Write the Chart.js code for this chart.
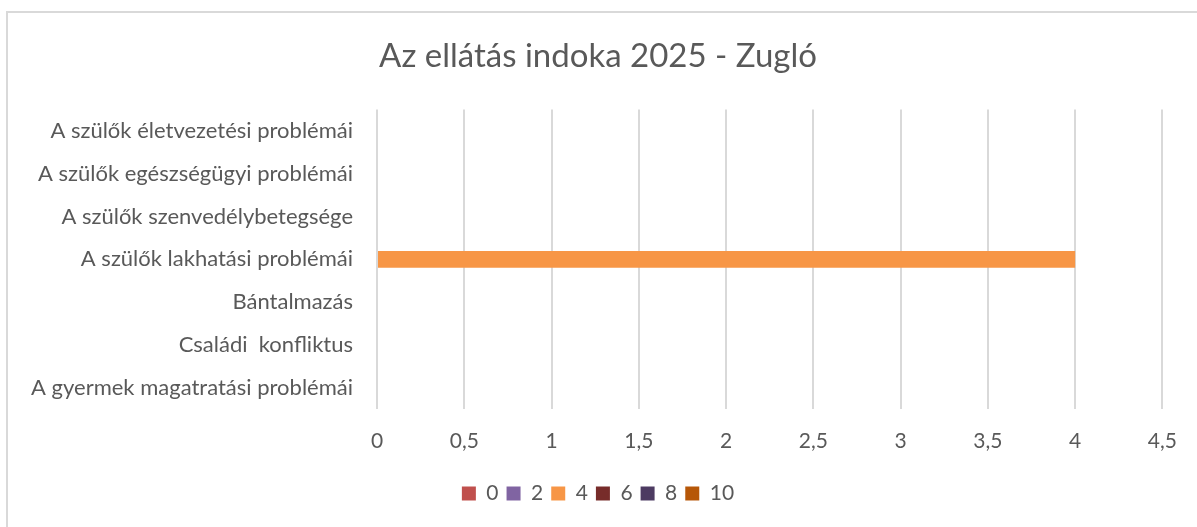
<!DOCTYPE html>
<html>
<head>
<meta charset="utf-8">
<script src="https://cdn.jsdelivr.net/npm/chart.js@4"></script>
<style>
  html, body { margin: 0; padding: 0; background: #fff; overflow: hidden; }
  #wrap { position: relative; width: 1197px; height: 527px; }
  #frame { position: absolute; left: 6px; top: 11px; width: 1300px; height: 600px; border: 2px solid #d9d9d9; box-sizing: border-box; }
  canvas { position: absolute; left: 0; top: 0; }
</style>
</head>
<body>
<div id="wrap">
  <div id="frame"></div>
  <canvas id="myChart" width="1197" height="527"></canvas>
</div>
<script>
document.addEventListener('DOMContentLoaded', function () {

    // data
    var categories = [
        'A szülők életvezetési problémái',
        'A szülők egészségügyi problémái',
        'A szülők szenvedélybetegsége',
        'A szülők lakhatási problémái',
        'Bántalmazás',
        'Családi  konfliktus',
        'A gyermek magatratási problémái'
    ];
    var seriesNames = ['0', '2', '4', '6', '8', '10'];
    var seriesColors = ['#c0504d', '#8064a2', '#f79646', '#772c2a', '#4d3b62', '#b65708'];
    var s0 = [0, 0, 0, 0, 0, 0, 0];
    var s2 = [0, 0, 0, 0, 0, 0, 0];
    var s4 = [0, 0, 0, 4, 0, 0, 0];
    var s6 = [0, 0, 0, 0, 0, 0, 0];
    var s8 = [0, 0, 0, 0, 0, 0, 0];
    var s10 = [0, 0, 0, 0, 0, 0, 0];
    var seriesValues = [s0, s2, s4, s6, s8, s10];
    var xTickLabels = ['0', '0,5', '1', '1,5', '2', '2,5', '3', '3,5', '4', '4,5'];

    var textColor = '#595959';
    var fontFamily = 'Lato, "Open Sans", sans-serif';

    var datasets = seriesNames.map(function (name, i) {
        return {
            label: name,
            data: seriesValues[i],
            backgroundColor: seriesColors[i],
            borderWidth: 0,
            categoryPercentage: 1,
            barPercentage: 0.39
        };
    });

    var ctx = document.getElementById('myChart').getContext('2d');
    var chart = new Chart(ctx, {
        type: 'bar',
        data: {
            labels: categories,
            datasets: datasets
        },
        options: {
            indexAxis: 'y',
            responsive: false,
            animation: false,
            layout: { padding: { left: 28, right: 29, top: 0, bottom: 13 } },
            scales: {
                x: {
                    stacked: true,
                    min: 0,
                    max: 4.5,
                    ticks: {
                        stepSize: 0.5,
                        color: textColor,
                        font: { family: fontFamily, size: 21 },
                        padding: 20,
                        callback: function (value, index) {
                            return xTickLabels[index];
                        }
                    },
                    grid: { color: '#d9d9d9', lineWidth: 2, drawTicks: false },
                    border: { display: false },
                    afterFit: function (scale) { scale.height = 66; }
                },
                y: {
                    stacked: true,
                    ticks: {
                        color: textColor,
                        font: { family: fontFamily, size: 22 },
                        padding: 24
                    },
                    grid: { display: false, drawTicks: false },
                    border: { display: false },
                    afterFit: function (scale) { scale.width = 349; }
                }
            },
            plugins: {
                title: {
                    display: true,
                    text: 'Az ellátás indoka 2025 - Zugló',
                    color: textColor,
                    font: { family: fontFamily, size: 33, weight: 'normal' },
                    padding: { top: 37, bottom: 33 }
                },
                legend: {
                    position: 'bottom',
                    labels: {
                        color: textColor,
                        font: { family: fontFamily, size: 21 },
                        boxWidth: 14,
                        boxHeight: 14,
                        padding: 8
                    }
                },
                tooltip: { enabled: false }
            }
        }
    });

});
</script>
</body>
</html>
